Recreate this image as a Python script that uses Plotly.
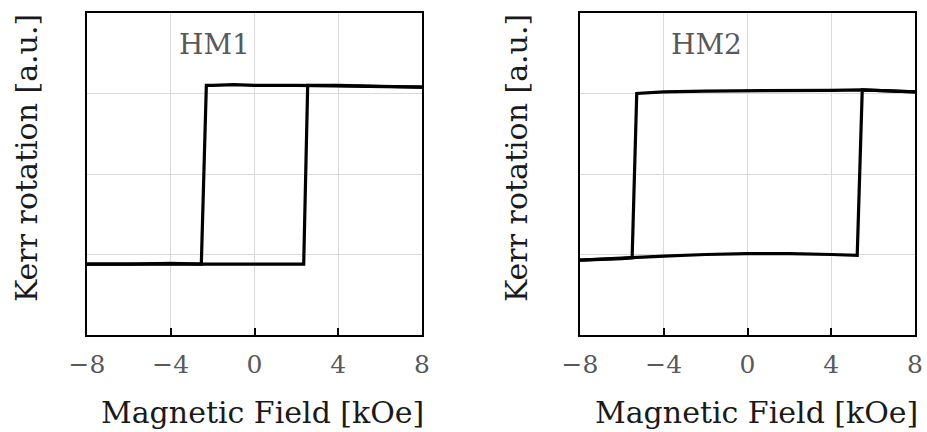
import plotly.graph_objects as go

# HM1 loop (field in kOe, Kerr rotation in a.u.)
hm1_down_x = [8, 6, 4, 2, 0, -1, -2, -2.30, -2.54, -4, -6, -8]
hm1_down_y = [1.08, 1.09, 1.10, 1.10, 1.10, 1.11, 1.10, 1.10, -1.12, -1.11, -1.12, -1.12]
hm1_up_x = [-8, -6, -4, -2, 0, 2, 2.35, 2.54, 4, 6, 7, 8]
hm1_up_y = [-1.12, -1.12, -1.11, -1.12, -1.12, -1.12, -1.12, 1.10, 1.10, 1.09, 1.08, 1.08]

# HM2 loop
hm2_down_x = [8, 7, 5.48, 4, 2, 0, -2, -4, -5.29, -5.51, -6, -8]
hm2_down_y = [1.02, 1.03, 1.045, 1.04, 1.04, 1.04, 1.03, 1.02, 1.00, -1.04, -1.05, -1.07]
hm2_up_x = [-8, -6, -5.51, -4, -2, 0, 2, 4, 5.24, 5.48, 7, 8]
hm2_up_y = [-1.07, -1.05, -1.04, -1.02, -1.00, -0.99, -0.99, -1.00, -1.01, 1.045, 1.03, 1.02]

x_ticks = [-8, -4, 0, 4, 8]
x_tick_text = ["\u22128", "\u22124", "0", "4", "8"]
y_grid = [-1, 0, 1]
panel_labels = ["HM1", "HM2"]
x_title = "Magnetic Field [kOe]"
y_title = "Kerr rotation [a.u.]"

FONT = "DejaVu Serif"
W, H = 927, 432

fig = go.Figure()
line = dict(color="black", width=3.2)
fig.add_trace(go.Scatter(x=hm1_down_x, y=hm1_down_y, mode="lines", line=line, xaxis="x", yaxis="y", showlegend=False))
fig.add_trace(go.Scatter(x=hm1_up_x, y=hm1_up_y, mode="lines", line=line, xaxis="x", yaxis="y", showlegend=False))
fig.add_trace(go.Scatter(x=hm2_down_x, y=hm2_down_y, mode="lines", line=line, xaxis="x2", yaxis="y2", showlegend=False))
fig.add_trace(go.Scatter(x=hm2_up_x, y=hm2_up_y, mode="lines", line=line, xaxis="x2", yaxis="y2", showlegend=False))

def px(x):
    return x / W

def py(y):
    return 1 - y / H

xaxis_common = dict(
    range=[-8, 8], tickvals=x_ticks, ticktext=x_tick_text,
    showgrid=True, gridcolor="#d9d9d9", gridwidth=1,
    showline=True, linecolor="black", linewidth=2, mirror=True,
    ticks="inside", ticklen=7, tickwidth=2, tickcolor="black",
    tickfont=dict(family=FONT, size=25, color="#595959"),
    zeroline=False, fixedrange=True, ticklabelstandoff=6, automargin=False,
)
yaxis_common = dict(
    range=[-2, 2], tickvals=y_grid, showticklabels=False,
    showgrid=True, gridcolor="#d9d9d9", gridwidth=1,
    showline=True, linecolor="black", linewidth=2, mirror=True,
    ticks="", zeroline=False, fixedrange=True, automargin=False,
)

fig.update_layout(
    width=W, height=H,
    margin=dict(l=0, r=0, t=0, b=0, autoexpand=False),
    paper_bgcolor="white", plot_bgcolor="white",
    xaxis=dict(domain=[px(87), px(422)], anchor="y", **xaxis_common),
    yaxis=dict(domain=[py(335), py(13)], anchor="x", **yaxis_common),
    xaxis2=dict(domain=[px(580), px(915)], anchor="y2", **xaxis_common),
    yaxis2=dict(domain=[py(335), py(13)], anchor="x2", **yaxis_common),
)

annotations = []
for cx, lab in [(px(214), panel_labels[0]), (px(706), panel_labels[1])]:
    annotations.append(dict(x=cx, y=py(45), xref="paper", yref="paper", text=lab,
                            showarrow=False, xanchor="center", yanchor="middle",
                            font=dict(family=FONT, size=28, color="#595959")))
for cx in [px(262), px(756)]:
    annotations.append(dict(x=cx, y=py(412), xref="paper", yref="paper", text=x_title,
                            showarrow=False, xanchor="center", yanchor="middle",
                            font=dict(family=FONT, size=30, color="#1a1a1a")))
for cx in [px(27), px(517)]:
    annotations.append(dict(x=cx, y=py(158), xref="paper", yref="paper", text=y_title,
                            showarrow=False, xanchor="center", yanchor="middle", textangle=-90,
                            font=dict(family=FONT, size=30, color="#1a1a1a")))
fig.update_layout(annotations=annotations)

fig.write_html("out.html")
